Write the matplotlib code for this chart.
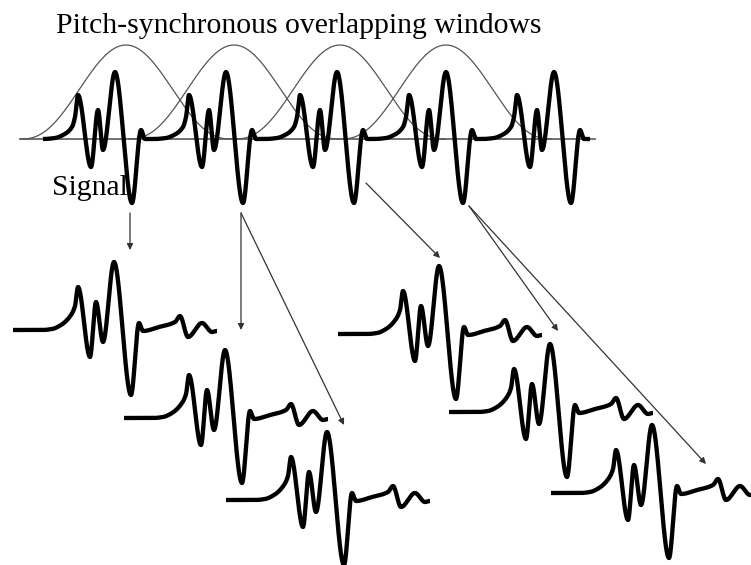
import numpy as np
import matplotlib
matplotlib.use("Agg")
import matplotlib.pyplot as plt

# ---- data (diagram coordinates in pixels, y measured downward) ----
title_text = "Pitch-synchronous overlapping windows"
signal_label = "Signal"

# top signal: one pitch period key points relative to the main peak (dy up)
top_dx = [-72, -60, -52, -43, -40, -37, -24, -17, -12, 0, 17, 26, 30]
top_dy = [0, 1, 4, 12, 22, 44, -28, 29, -11, 67, -64, 9, 0]
top_centers = [115, 226, 337, 446, 554]
top_baseline = 139
axis_x = [20, 595]

# windows
win_centers = [126, 234, 340, 446]
win_half = 105
win_height = 94

# extracted (windowed) segments: key points relative to main peak
seg_dx = [-101, -72, -62, -53, -43, -39, -36, -24, -18, -11, 0, 17, 25, 29, 45, 61, 66, 74, 88, 98, 103]
seg_dy = [0, 0, 1, 5, 15, 24, 43, -27, 28, -12, 68, -65, 7, -1, 3, 8, 14, -7, 7, -2, -1]
seg_peak_x = [114, 225, 327, 439, 550, 652]
seg_base_y = [330, 418, 500, 334, 412, 493]

# arrows (start, end)
arrow_start = [(130, 213), (241, 213), (241, 213), (366, 183), (469, 206), (469, 206)]
arrow_end = [(130, 250), (241, 330), (344, 425), (440, 258), (558, 331), (706, 464)]


def pchip(x, y, xs):
    x = np.asarray(x, float)
    y = np.asarray(y, float)
    h = np.diff(x)
    delta = np.diff(y) / h
    n = len(x)
    d = np.zeros(n)
    for k in range(1, n - 1):
        if delta[k - 1] * delta[k] > 0:
            w1 = 2 * h[k] + h[k - 1]
            w2 = h[k] + 2 * h[k - 1]
            d[k] = (w1 + w2) / (w1 / delta[k - 1] + w2 / delta[k])
    idx = np.clip(np.searchsorted(x, xs) - 1, 0, n - 2)
    t = (xs - x[idx]) / h[idx]
    h00 = 2 * t**3 - 3 * t**2 + 1
    h10 = t**3 - 2 * t**2 + t
    h01 = -2 * t**3 + 3 * t**2
    h11 = t**3 - t**2
    return h00 * y[idx] + h10 * h[idx] * d[idx] + h01 * y[idx + 1] + h11 * h[idx] * d[idx + 1]


fig = plt.figure(figsize=(7.51, 5.65), dpi=100)
ax = fig.add_axes([0, 0, 1, 1])
ax.set_xlim(0, 751)
ax.set_ylim(565, 0)
ax.axis("off")

# baseline axis
ax.plot(axis_x, [top_baseline, top_baseline], color="#666666", lw=1.3, zorder=1)

# windows
for c in win_centers:
    xs = np.linspace(c - win_half, c + win_half, 300)
    w = (0.5 * (1 + np.cos(np.pi * (xs - c) / win_half))) ** 1.2
    ax.plot(xs, top_baseline - win_height * w, color="#555555", lw=0.9, zorder=2)

# top signal
kx, ky = [], []
for c in top_centers:
    kx += [c + d for d in top_dx]
    ky += top_dy
kx.append(top_centers[-1] + 36)
ky.append(0)
xs = np.linspace(kx[0], kx[-1], 3000)
ax.plot(xs, top_baseline - pchip(kx, ky, xs), color="black", lw=3.1,
        solid_capstyle="butt", zorder=3)

# segments
for px, by in zip(seg_peak_x, seg_base_y):
    sx = np.array(seg_dx, float) + px
    xs = np.linspace(sx[0], sx[-1], 1500)
    ax.plot(xs, by - pchip(sx, seg_dy, xs), color="black", lw=3.1,
            solid_capstyle="butt", zorder=3)

# arrows
for s, e in zip(arrow_start, arrow_end):
    ax.annotate("", xy=e, xytext=s,
                arrowprops=dict(arrowstyle="-|>", color="#333333", lw=0.9,
                                mutation_scale=9, shrinkA=0, shrinkB=0),
                zorder=4)

ax.text(56, 33, title_text, fontfamily="Liberation Serif", fontsize=21.3,
        ha="left", va="baseline", color="black")
ax.text(52, 195, signal_label, fontfamily="Liberation Serif", fontsize=21.3,
        ha="left", va="baseline", color="black")

fig.savefig("out.png", dpi=100)
